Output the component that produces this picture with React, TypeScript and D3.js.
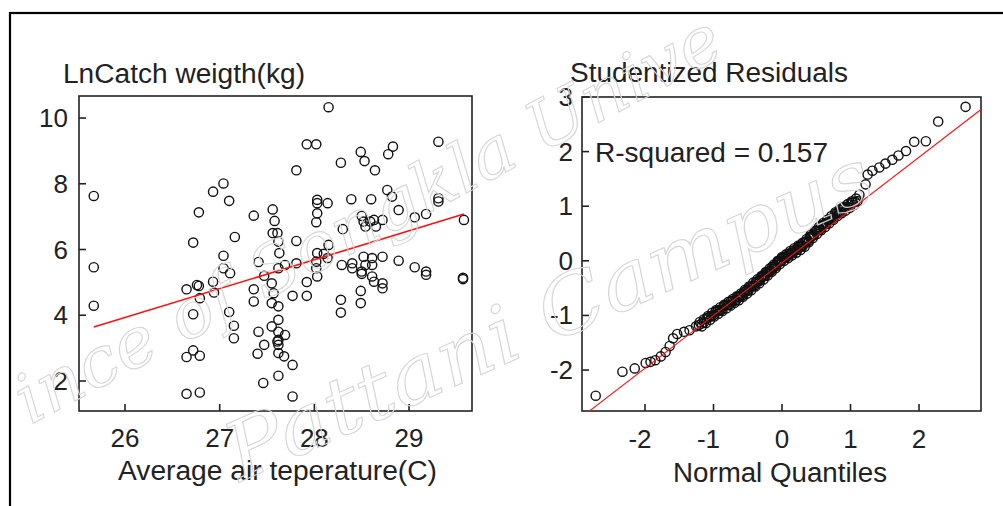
import React from "react";
import * as d3 from "d3";

// ---------- Data ----------
const tempC = [
  25.67, 25.67, 25.67, 26.65, 26.76, 26.78, 26.79, 26.72, 26.65, 26.72,
  26.79, 26.65, 26.79, 26.72, 26.78, 26.93, 27.04, 27.1, 27.16, 27.04,
  27.04, 27.11, 26.93, 26.94, 27.1, 27.15, 27.15, 27.36, 27.41, 27.47,
  27.36, 27.36, 27.41, 27.47, 27.4, 27.46, 27.56, 27.58, 27.56, 27.61,
  27.62, 27.63, 27.62, 27.69, 27.55, 27.57, 27.55, 27.62, 27.62, 27.55,
  27.62, 27.69, 27.62, 27.61, 27.62, 27.62, 27.68, 27.77, 27.62, 27.77,
  27.81, 27.92, 28.02, 28.15, 27.81, 27.81, 27.77, 27.92, 27.92, 28.03,
  28.03, 28.03, 28.14, 28.03, 28.02, 28.15, 28.03, 28.1, 28.14, 28.02,
  28.02, 28.29, 28.28, 28.3, 28.39, 28.4, 28.4, 28.28, 28.28, 28.49,
  28.53, 28.64, 28.78, 28.83, 28.6, 28.77, 28.82, 28.89, 28.5, 28.52,
  28.59, 28.63, 28.72, 28.54, 28.65, 28.52, 28.54, 28.61, 28.61, 28.72,
  28.5, 28.5, 28.61, 28.63, 28.72, 28.72, 28.49, 28.49, 28.89, 29.06,
  29.18, 29.18, 29.06, 29.18, 29.31, 29.31, 29.31, 29.58, 29.57, 29.57,
];
const lnCatch = [
  7.63, 5.46, 4.29, 4.79, 4.92, 4.89, 4.52, 4.03, 2.73, 2.93,
  2.77, 1.61, 1.65, 6.21, 7.13, 7.76, 8.01, 7.48, 6.38, 5.81,
  5.43, 5.28, 5.02, 4.69, 4.1, 3.68, 3.3, 7.03, 5.62, 5.2,
  4.79, 4.42, 3.5, 3.1, 2.83, 1.94, 7.22, 6.87, 6.5, 6.5,
  6.24, 5.89, 5.43, 5.53, 4.97, 4.67, 4.37, 4.27, 3.86, 3.66,
  3.5, 3.4, 3.25, 3.2, 3.1, 2.85, 2.75, 2.49, 2.16, 1.53,
  8.41, 9.2, 9.2, 10.33, 6.26, 5.58, 4.59, 4.59, 5.01, 5.18,
  7.51, 7.41, 7.41, 7.1, 6.83, 6.14, 5.89, 5.87, 5.74, 5.63,
  5.43, 5.53, 8.64, 6.62, 7.53, 5.58, 5.43, 4.47, 4.08, 8.97,
  8.69, 8.41, 8.9, 9.13, 7.53, 7.81, 7.61, 7.2, 7.02, 6.85,
  6.85, 6.9, 6.9, 6.7, 6.7, 5.78, 5.53, 5.74, 5.53, 5.78,
  5.33, 5.26, 5.18, 5.02, 4.97, 4.82, 4.74, 4.37, 5.66, 5.46,
  5.33, 5.23, 6.98, 7.08, 9.28, 7.56, 7.46, 6.9, 5.1, 5.14,
];
// fitted line: lnCatch = intercept + slope * temp
const fitSlope = 0.88;
const fitIntercept = -18.95;

// Normal quantile plot: quantiles and sorted studentized residuals
const normalQuantiles = [
  -2.72, -2.33, -2.15, -1.99, -1.92, -1.85, -1.77, -1.7, -1.64, -1.59, -1.53, -1.43, -1.35,
  -1.255, -1.214, -1.175, -1.138, -1.102, -1.067, -1.033, -1.001, -0.97, -0.94,
  -0.91, -0.882, -0.854, -0.827, -0.8, -0.773, -0.747, -0.722, -0.697, -0.673,
  -0.649, -0.625, -0.602, -0.579, -0.557, -0.534, -0.512, -0.49, -0.469, -0.447,
  -0.426, -0.405, -0.385, -0.364, -0.344, -0.323, -0.303, -0.283, -0.263, -0.243,
  -0.223, -0.204, -0.184, -0.164, -0.145, -0.125, -0.106, -0.087, -0.067, -0.048,
  -0.029, -0.01, 0.01, 0.029, 0.048, 0.067, 0.087, 0.106, 0.125, 0.145,
  0.164, 0.184, 0.204, 0.223, 0.243, 0.263, 0.283, 0.303, 0.323, 0.344,
  0.364, 0.385, 0.405, 0.426, 0.447, 0.469, 0.49, 0.512, 0.534, 0.557,
  0.579, 0.602, 0.625, 0.649, 0.673, 0.697, 0.722, 0.747, 0.773, 0.8,
  0.827, 0.854, 0.882, 0.91, 0.94, 0.97, 1.001, 1.033, 1.067, 1.102,
  1.13, 1.22, 1.25, 1.32, 1.42, 1.51, 1.61, 1.7, 1.81, 1.93, 2.1, 2.28, 2.68,
];
const studResiduals = [
  -2.47, -2.03, -1.97, -1.87, -1.85, -1.82, -1.75, -1.67, -1.56, -1.42, -1.34, -1.3, -1.27,
  -1.2, -1.175, -1.15, -1.125, -1.05, -1.035, -1.01, -0.995, -0.93, -0.915,
  -0.9, -0.895, -0.83, -0.815, -0.81, -0.805, -0.74, -0.735, -0.73, -0.725,
  -0.66, -0.655, -0.65, -0.635, -0.57, -0.555, -0.55, -0.545, -0.48, -0.465,
  -0.46, -0.455, -0.39, -0.375, -0.37, -0.365, -0.3, -0.285, -0.28, -0.275,
  -0.21, -0.195, -0.19, -0.185, -0.11, -0.105, -0.1, -0.095, -0.02, -0.015,
  -0.01, -0.005, 0.06, 0.065, 0.07, 0.072, 0.13, 0.132, 0.135, 0.14,
  0.19, 0.195, 0.2, 0.205, 0.26, 0.262, 0.265, 0.27, 0.33, 0.345,
  0.36, 0.365, 0.44, 0.445, 0.46, 0.475, 0.54, 0.555, 0.57, 0.575,
  0.65, 0.655, 0.67, 0.675, 0.75, 0.755, 0.77, 0.785, 0.86, 0.875,
  0.88, 0.885, 0.96, 0.965, 0.97, 0.985, 1.06, 1.065, 1.08, 1.095,
  1.21, 1.4, 1.58, 1.65, 1.71, 1.78, 1.85, 1.93, 2.01, 2.18, 2.19, 2.55, 2.82,
];
// further overlapping points of the dense central band (read as band thickness)
const bandQuantiles = [
  -1.2, -1.17, -1.14, -1.11, -1.08, -1.05, -1.02, -0.99, -0.96, -0.93,
  -0.9, -0.87, -0.84, -0.81, -0.78, -0.75, -0.72, -0.69, -0.66, -0.63,
  -0.6, -0.57, -0.54, -0.51, -0.48, -0.45, -0.42, -0.39, -0.36, -0.33,
  -0.3, -0.27, -0.24, -0.21, -0.18, -0.15, -0.12, -0.09, -0.06, -0.03,
  0.0, 0.03, 0.06, 0.09, 0.12, 0.15, 0.18, 0.21, 0.24, 0.27,
  0.3, 0.33, 0.36, 0.39, 0.42, 0.45, 0.48, 0.51, 0.54, 0.57,
  0.6, 0.63, 0.66, 0.69, 0.72, 0.75, 0.78, 0.81, 0.84, 0.87,
  0.9, 0.93, 0.96, 0.99, 1.02, 1.05, 1.08,
];
const bandResiduals = [
  -1.12, -1.2, -1.07, -1.14, -1.01, -1.08, -0.95, -1.02, -0.9, -0.97,
  -0.85, -0.92, -0.8, -0.87, -0.75, -0.82, -0.7, -0.77, -0.65, -0.72,
  -0.6, -0.66, -0.53, -0.6, -0.47, -0.54, -0.4, -0.47, -0.34, -0.41,
  -0.28, -0.34, -0.21, -0.27, -0.14, -0.2, -0.07, -0.13, 0.0, -0.06,
  0.07, 0.0, 0.12, 0.05, 0.18, 0.1, 0.23, 0.15, 0.28, 0.2,
  0.33, 0.26, 0.4, 0.34, 0.48, 0.42, 0.55, 0.49, 0.62, 0.56,
  0.69, 0.62, 0.75, 0.69, 0.82, 0.75, 0.89, 0.82, 0.94, 0.87,
  0.99, 0.92, 1.04, 0.97, 1.09, 1.02, 1.14,
];
const qqSlope = 0.966;
const qqIntercept = -0.035;
const rSquared = "0.157";

const leftXTicks = [26, 27, 28, 29];
const leftYTicks = [2, 4, 6, 8, 10];
const rightXTicks = [-2, -1, 0, 1, 2];
const rightYTicks = [-2, -1, 0, 1, 2, 3];

// ---------- Layout ----------
const W = 1003;
const H = 506;
const L = { x0: 79, x1: 472, y0: 96, y1: 411 };
const R = { x0: 582, x1: 981, y0: 97, y1: 411 };
const FONT = "'Liberation Sans', Arial, sans-serif";

const xL = d3.scaleLinear().domain([25.514, 29.665]).range([L.x0, L.x1]);
const yL = d3.scaleLinear().domain([1.087, 10.67]).range([L.y1, L.y0]);
const xR = d3.scaleLinear().domain([-2.92, 2.905]).range([R.x0, R.x1]);
const yR = d3.scaleLinear().domain([-2.75, 3.0]).range([R.y1, R.y0]);

const lineGen = d3.line<[number, number]>();

export default function App() {
  const xMin = d3.min(tempC) as number;
  const xMax = d3.max(tempC) as number;
  const fitPts: [number, number][] = [xMin, xMax].map((x) => [xL(x), yL(fitIntercept + fitSlope * x)]);
  const qd = xR.domain();
  const qqPts: [number, number][] = [qd[0], qd[1]].map((q) => [xR(q), yR(qqIntercept + qqSlope * q)]);

  const tick = 7;
  const circ = { r: 4.6, fill: "none", stroke: "#111", strokeWidth: 1.4 };

  return (
    <svg
      width={W}
      height={H}
      style={{ position: "absolute", left: 0, top: 0, display: "block", background: "#fff" }}
      fontFamily={FONT}
    >
      <rect x={0} y={0} width={W} height={H} fill="#fff" />
      {/* outer figure border */}
      <rect x={10} y={13} width={1100} height={600} fill="none" stroke="#000" strokeWidth={2.2} />

      <defs>
        <clipPath id="clipR">
          <rect x={R.x0} y={R.y0} width={R.x1 - R.x0} height={R.y1 - R.y0} />
        </clipPath>
      </defs>

      {/* ---------- Left panel ---------- */}
      <text x={63} y={83} fontSize={27} fill="#222" textLength={242} lengthAdjust="spacingAndGlyphs">
        LnCatch weigth(kg)
      </text>
      <rect x={L.x0} y={L.y0} width={L.x1 - L.x0} height={L.y1 - L.y0} fill="none" stroke="#222" strokeWidth={1.6} />
      {leftXTicks.map((t) => (
        <g key={"lx" + t}>
          <line x1={xL(t)} x2={xL(t)} y1={L.y1} y2={L.y1 - tick} stroke="#222" strokeWidth={1.6} />
          <text x={xL(t)} y={447} fontSize={26} textAnchor="middle" fill="#222">
            {t}
          </text>
        </g>
      ))}
      {leftYTicks.map((t) => (
        <g key={"ly" + t}>
          <line x1={L.x0} x2={L.x0 + tick} y1={yL(t)} y2={yL(t)} stroke="#222" strokeWidth={1.6} />
          <text x={68} y={yL(t) + 9} fontSize={26} textAnchor="end" fill="#222">
            {t}
          </text>
        </g>
      ))}
      <text x={(118 + 437) / 2} y={480} fontSize={27} textAnchor="middle" fill="#222" textLength={319} lengthAdjust="spacingAndGlyphs">
        Average air teperature(C)
      </text>
      {tempC.map((x, i) => (
        <circle key={"p" + i} cx={xL(x)} cy={yL(lnCatch[i])} {...circ} />
      ))}
      <path d={lineGen(fitPts) || ""} stroke="#ff1010" strokeWidth={1.6} fill="none" />

      {/* ---------- Right panel ---------- */}
      <text x={570} y={82} fontSize={27} fill="#222" textLength={278} lengthAdjust="spacingAndGlyphs">
        Studentized Residuals
      </text>
      <rect x={R.x0} y={R.y0} width={R.x1 - R.x0} height={R.y1 - R.y0} fill="none" stroke="#222" strokeWidth={1.6} />
      {rightXTicks.map((t) => (
        <g key={"rx" + t}>
          <line x1={xR(t)} x2={xR(t)} y1={R.y1} y2={R.y1 - tick} stroke="#222" strokeWidth={1.6} />
          <text x={xR(t) - (t < 0 ? 5 : 0)} y={448} fontSize={26} textAnchor="middle" fill="#222">
            {t}
          </text>
        </g>
      ))}
      {rightYTicks.map((t) => (
        <g key={"ry" + t}>
          <line x1={R.x0} x2={R.x0 + tick} y1={yR(t)} y2={yR(t)} stroke="#222" strokeWidth={1.6} />
          <text x={573} y={yR(t) + 9} fontSize={26} textAnchor="end" fill="#222">
            {t}
          </text>
        </g>
      ))}
      <text x={(673 + 887) / 2} y={482} fontSize={27} textAnchor="middle" fill="#222" textLength={214} lengthAdjust="spacingAndGlyphs">
        Normal Quantiles
      </text>
      <text x={595} y={162} fontSize={28} fill="#222" textLength={233} lengthAdjust="spacingAndGlyphs">
        {"R-squared = " + rSquared}
      </text>
      {normalQuantiles.map((q, i) => (
        <circle key={"q" + i} cx={xR(q)} cy={yR(studResiduals[i])} {...circ} />
      ))}
      {bandQuantiles.map((q, i) => (
        <circle key={"b" + i} cx={xR(q)} cy={yR(bandResiduals[i])} {...circ} />
      ))}
      <path d={lineGen(qqPts) || ""} stroke="#ff1010" strokeWidth={1.1} fill="none" clipPath="url(#clipR)" />

      {/* ---------- Watermark ---------- */}
      <g fill="none" stroke="#d6d6d6" strokeWidth={1.1} fontFamily="'DejaVu Serif', serif" fontStyle="italic">
        <text x={30} y={425} fontSize={68} textLength={790} lengthAdjust="spacingAndGlyphs" transform="rotate(-28 30 425)">
          ince of Songkla Unive
        </text>
        <text x={240} y={482} fontSize={80} textLength={700} lengthAdjust="spacingAndGlyphs" transform="rotate(-24 240 482)">
          Pattani Campus
        </text>
      </g>
    </svg>
  );
}
